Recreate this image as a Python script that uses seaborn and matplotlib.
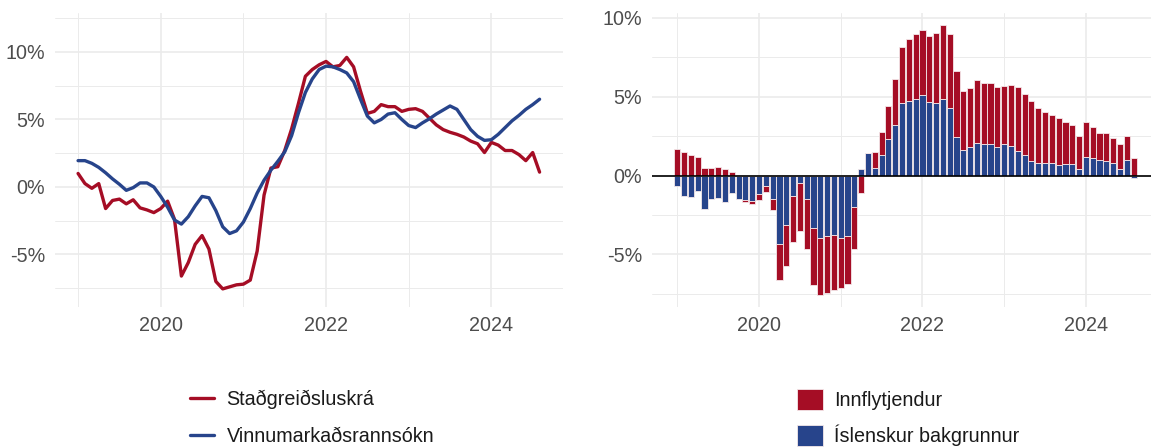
import numpy as np
import pandas as pd
import matplotlib
matplotlib.use("Agg")
import matplotlib.pyplot as plt
from matplotlib.lines import Line2D
from matplotlib.patches import Patch
from matplotlib.ticker import FixedLocator, FuncFormatter
import seaborn as sns

# ---------------- data ----------------
start_month = "2019-01"
year_labels = ["2020", "2022", "2024"]
year_positions = [12, 36, 60]          # month index of January of each labelled year
minor_year_positions = [0, 24, 48]     # 2019, 2021, 2023

stadgreidsluskra = [
    1.0, 0.25, -0.1, 0.25, -1.6, -1.0, -0.9, -1.25, -0.95, -1.55,
    -1.7, -1.9, -1.6, -1.05, -2.4, -6.6, -5.6, -4.25, -3.6, -4.6,
    -7.0, -7.55, -7.4, -7.25, -7.2, -6.9, -4.75, -0.6, 1.4, 1.5,
    2.7, 4.3, 6.2, 8.2, 8.7, 9.05, 9.3, 8.9, 9.0, 9.6,
    8.9, 7.1, 5.45, 5.6, 6.1, 5.95, 5.95, 5.6, 5.75, 5.8,
    5.6, 5.1, 4.6, 4.25, 4.05, 3.9, 3.7, 3.4, 3.2, 2.55,
    3.3, 3.1, 2.7, 2.7, 2.4, 1.95, 2.55, 1.1,
]
vinnumarkadsrannsokn = [
    1.95, 1.95, 1.75, 1.45, 1.05, 0.6, 0.2, -0.25, -0.05, 0.3,
    0.3, 0.0, -0.7, -1.5, -2.45, -2.75, -2.2, -1.4, -0.7, -0.8,
    -1.75, -2.95, -3.45, -3.25, -2.6, -1.6, -0.45, 0.5, 1.25, 1.9,
    2.6, 3.8, 5.5, 7.0, 8.0, 8.7, 8.95, 8.9, 8.7, 8.45,
    7.8, 6.5, 5.25, 4.75, 5.0, 5.4, 5.5, 5.0, 4.55, 4.4,
    4.75, 5.05, 5.4, 5.7, 6.0, 5.75, 5.0, 4.25, 3.75, 3.45,
    3.5, 3.9, 4.4, 4.9, 5.3, 5.75, 6.1, 6.5,
]
islenskur = [
    -0.64, -1.3, -1.34, -0.96, -2.1, -1.49, -1.43, -1.68, -1.12, -1.5,
    -1.55, -1.59, -1.17, -0.66, -1.5, -4.32, -3.15, -1.28, -0.47, -1.45,
    -3.3, -3.94, -3.81, -3.79, -3.94, -3.81, -2.02, 0.43, 1.43, 0.5,
    1.3, 2.34, 3.21, 4.6, 4.7, 4.85, 5.09, 4.68, 4.6, 4.87,
    4.3, 2.45, 1.6, 1.79, 2.09, 1.98, 2.02, 1.83, 2.0, 1.87,
    1.53, 1.3, 0.91, 0.79, 0.79, 0.79, 0.66, 0.72, 0.74, 0.4,
    1.21, 1.13, 1.0, 0.94, 0.79, 0.43, 0.98, -0.13,
]
innflytjendur = [
    1.68, 1.47, 1.3, 1.21, 0.49, 0.49, 0.53, 0.4, 0.2, 0.0,
    -0.15, -0.23, -0.38, -0.36, -0.68, -2.3, -2.55, -2.94, -3.04, -3.19,
    -3.62, -3.62, -3.62, -3.47, -3.19, -3.06, -2.64, -1.09, 0.0, 0.97,
    1.49, 2.06, 2.89, 3.55, 3.98, 4.15, 4.14, 4.17, 4.42, 4.68,
    4.66, 4.21, 3.78, 3.78, 3.97, 3.89, 3.87, 3.77, 3.7, 3.9,
    4.09, 3.87, 3.79, 3.49, 3.27, 3.08, 3.02, 2.66, 2.45, 2.13,
    2.17, 1.96, 1.68, 1.76, 1.61, 1.55, 1.55, 1.13,
]
line_labels = ["Staðgreiðsluskrá", "Vinnumarkaðsrannsókn"]
bar_labels = ["Innflytjendur", "Íslenskur bakgrunnur"]

RED = "#A50D25"
BLUE = "#27448B"
GRID = "#EBEBEB"
TXT = "#4D4D4D"

# ---------------- style ----------------
sns.set_theme(style="white")
plt.rcParams["font.family"] = ["Liberation Sans", "DejaVu Sans"]
FS = 14.2

fig = plt.figure(figsize=(11.51, 4.47), dpi=100)
axL = fig.add_axes([55 / 1151, 1 - 306.7 / 447, (563 - 55) / 1151, (306.7 - 12.7) / 447])
axR = fig.add_axes([651.7 / 1151, 1 - 306.7 / 447, (1151 - 651.7) / 1151, (306.7 - 12.7) / 447])

n = len(stadgreidsluskra)
idx = np.arange(n)
df = pd.DataFrame({
    "m": np.concatenate([idx, idx]),
    "v": stadgreidsluskra + vinnumarkadsrannsokn,
    "s": [line_labels[0]] * n + [line_labels[1]] * n,
})

# ---- left: lines ----
sns.lineplot(data=df, x="m", y="v", hue="s", palette=[RED, BLUE],
             linewidth=2.4, ax=axL, legend=False, zorder=3)

# ---- right: stacked bars (blue nearest zero, red outside) ----
pos_base = np.zeros(n)
neg_base = np.zeros(n)
for vals, col in [(islenskur, BLUE), (innflytjendur, RED)]:
    v = np.array(vals)
    bottom = np.where(v >= 0, pos_base, neg_base)
    axR.bar(idx, v, bottom=bottom, width=0.9, color=col,
            edgecolor="#F4E8EA", linewidth=0.6, zorder=3)
    pos_base = pos_base + np.where(v >= 0, v, 0)
    neg_base = neg_base + np.where(v < 0, v, 0)
axR.axhline(0, color="black", linewidth=1.2, zorder=4)

def pct(x, pos):
    return f"{x:.0f}%"

for ax, xl, yl in [(axL, (-3.35, 70.4), (-8.87, 12.91)),
                   (axR, (-3.76, 69.56), (-8.31, 10.33))]:
    ax.set_xlim(*xl)
    ax.set_ylim(*yl)
    ax.xaxis.set_major_locator(FixedLocator(year_positions))
    ax.set_xticklabels(year_labels)
    ax.xaxis.set_minor_locator(FixedLocator(minor_year_positions))
    ax.yaxis.set_major_locator(FixedLocator([-5, 0, 5, 10]))
    ax.yaxis.set_minor_locator(FixedLocator([-7.5, -2.5, 2.5, 7.5, 12.5]))
    ax.yaxis.set_major_formatter(FuncFormatter(pct))
    ax.grid(which="major", color=GRID, linewidth=1.2, zorder=0)
    ax.grid(which="minor", color=GRID, linewidth=0.7, zorder=0)
    ax.set_axisbelow(True)
    for s in ax.spines.values():
        s.set_visible(False)
    ax.tick_params(axis="both", which="both", length=0, labelsize=FS, labelcolor=TXT)
    ax.tick_params(axis="y", pad=7)
    ax.tick_params(axis="x", pad=7)
    ax.set_xlabel("")
    ax.set_ylabel("")
    ax.set_facecolor("white")

# ---- legends ----
hL = [Line2D([], [], color=RED, linewidth=2.4), Line2D([], [], color=BLUE, linewidth=2.4)]
fig.legend(hL, line_labels, loc="center left", bbox_to_anchor=(190 / 1151, 1 - 418 / 447),
           frameon=False, fontsize=FS, handlelength=1.2, handletextpad=0.65,
           labelspacing=0.9, borderpad=0, borderaxespad=0, labelcolor="#1A1A1A")
hR = [Patch(facecolor=RED, edgecolor="#F4E8EA", linewidth=0.6),
      Patch(facecolor=BLUE, edgecolor="#F4E8EA", linewidth=0.6)]
fig.legend(hR, bar_labels, loc="center left", bbox_to_anchor=(797 / 1151, 1 - 417.5 / 447),
           frameon=False, fontsize=FS, handlelength=1.3, handleheight=1.3,
           handletextpad=0.6, labelspacing=0.72, borderpad=0, borderaxespad=0,
           labelcolor="#1A1A1A")

fig.savefig("out.png", dpi=100, facecolor="white")
